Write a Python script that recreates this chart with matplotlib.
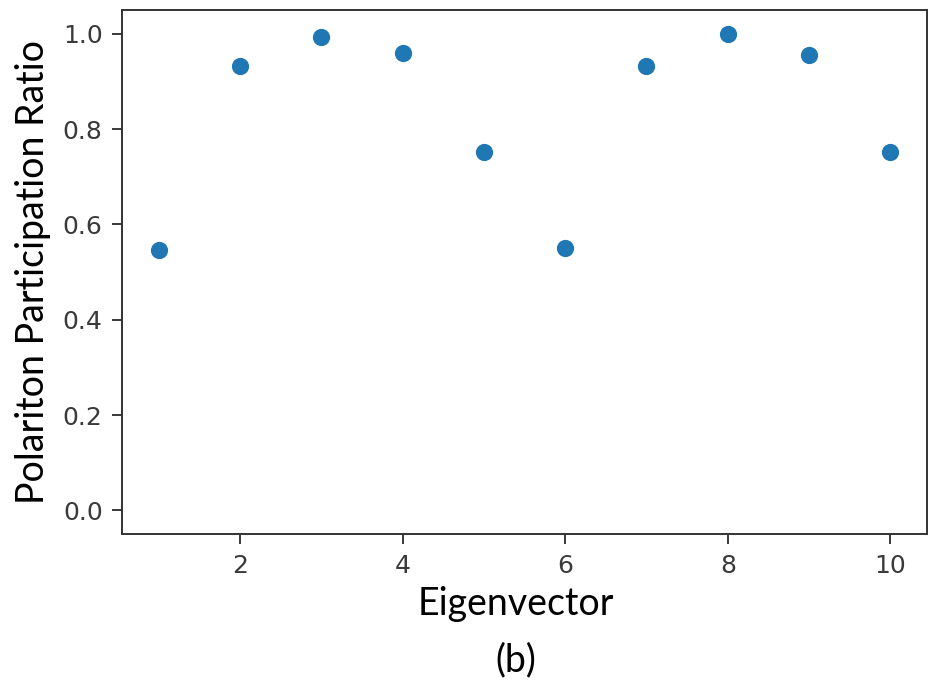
import matplotlib

matplotlib.use("Agg")
import matplotlib.pyplot as plt

# participation ratio of the photonic part for each eigenvector
eigenvector = [1, 2, 3, 4, 5, 6, 7, 8, 9, 10]
participation = [0.547, 0.933, 0.994, 0.960, 0.753, 0.551, 0.933, 1.000, 0.955, 0.753]

LABEL_FONT = ["Lato", "DejaVu Sans"]

fig = plt.figure(figsize=(9.32, 6.92), dpi=100)
ax = fig.add_axes([0.131, 0.228, 0.8636, 0.7575])

ax.scatter(eigenvector, participation, s=130, color="#1f77b4", zorder=3)

ax.set_ylim(-0.05, 1.05)
ax.set_xticks([2, 4, 6, 8, 10])
ax.set_yticks([0.0, 0.2, 0.4, 0.6, 0.8, 1.0])
ax.tick_params(labelsize=18, colors="#3a3a3a", length=7, width=1.4, pad=7)
for spine in ax.spines.values():
    spine.set_color("#333333")
    spine.set_linewidth(1.4)

fig.text(0.035, 0.607, "Polariton Participation Ratio", rotation=90,
         ha="center", va="center", fontsize=27, family=LABEL_FONT)
fig.text(0.553, 0.127, "Eigenvector", ha="center", va="center",
         fontsize=27, family=LABEL_FONT)
fig.text(0.553, 0.046, "(b)", ha="center", va="center",
         fontsize=27, family=LABEL_FONT)

fig.savefig("out.png", dpi=100)
